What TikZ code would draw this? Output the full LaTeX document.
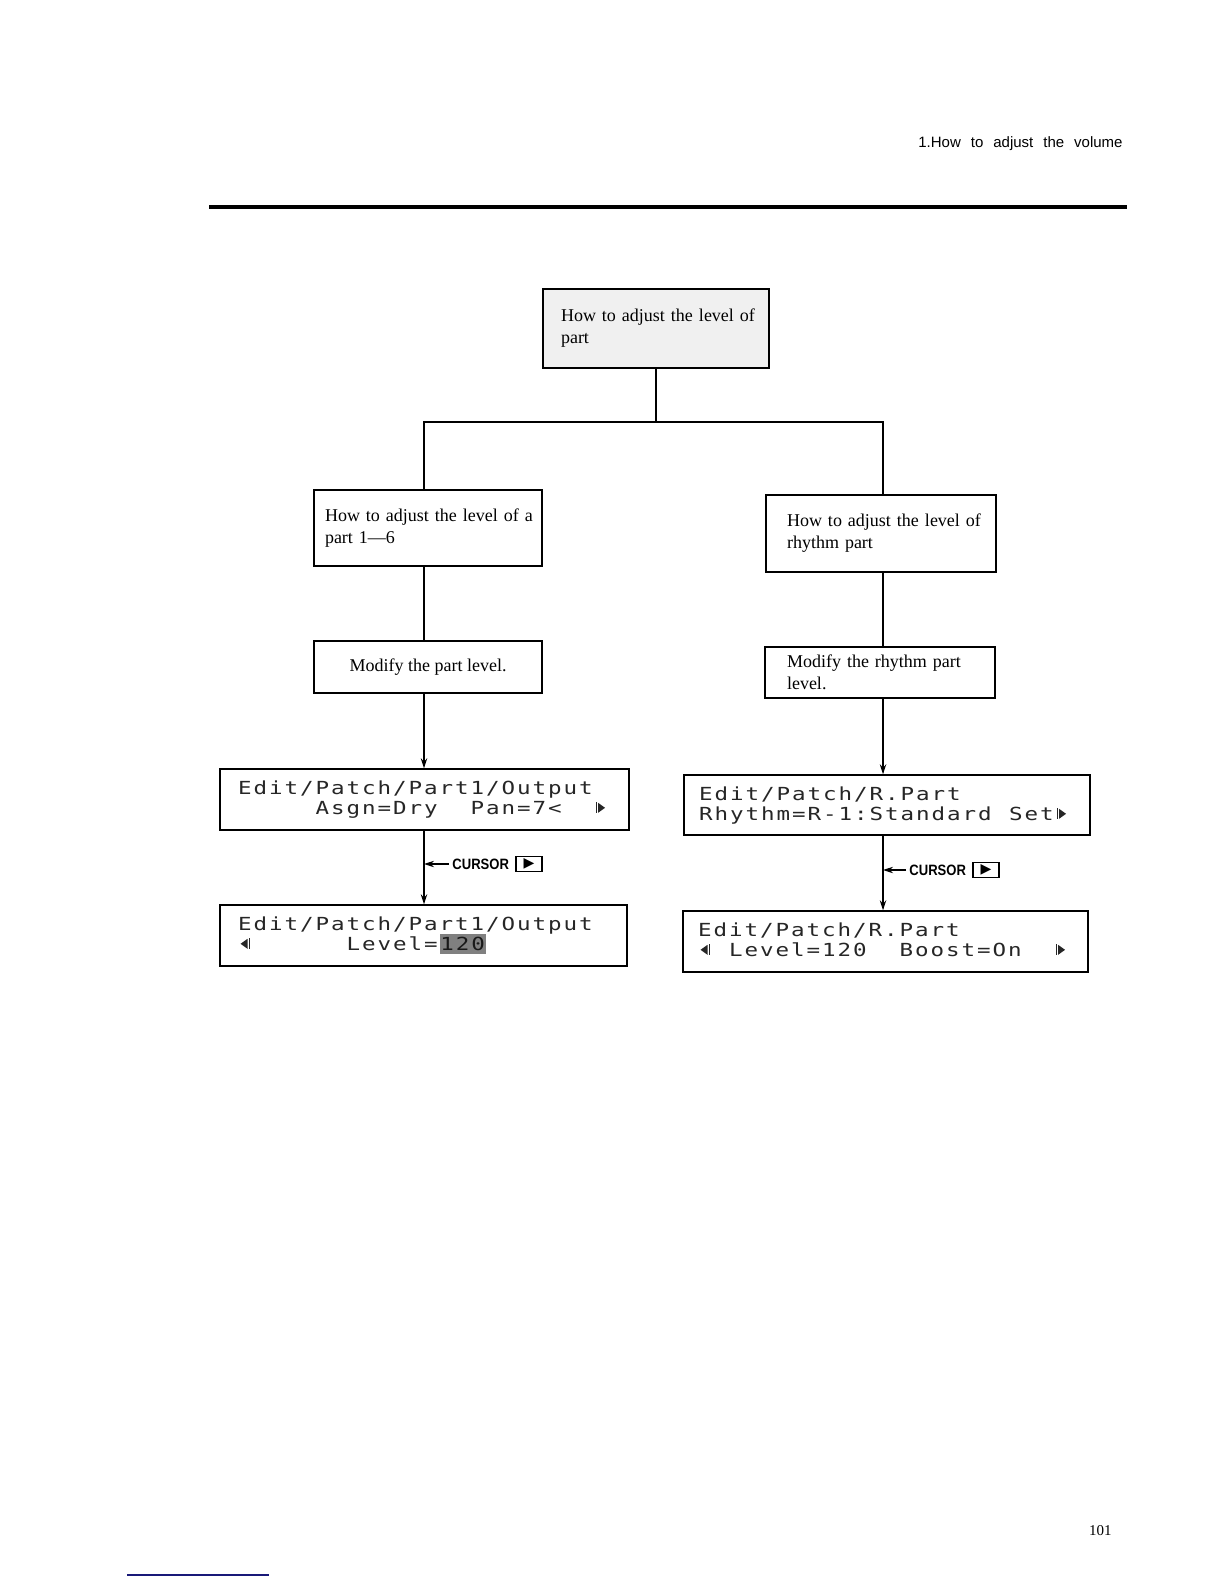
\documentclass[tikz,border=0pt]{standalone}
\usepackage{fontspec}
\setmainfont{Liberation Serif}
\newfontfamily\lcdfont[FakeStretch=1.25]{DejaVu Sans Mono}
\newfontfamily\hdrfont{Liberation Sans}
\newfontfamily\symfont{DejaVu Sans}
\usetikzlibrary{arrows.meta,calc}
\definecolor{rulblue}{RGB}{25,25,120}
\newcommand\lcdcells[1]{\lcdloop#1\relax}
\def\lcdloop#1{\ifx#1\relax\else\makebox[7.75pt][c]{#1}\expandafter\lcdloop\fi}
\tikzset{
  boxA/.style={draw, line width=0.9pt, inner ysep=0pt, align=left, font=\fontsize{9}{11}\selectfont},
  boxB/.style={draw, line width=0.8pt, inner ysep=0pt, font=\fontsize{9}{11}\selectfont},
  lcdbox/.style={draw, line width=0.7pt, inner sep=0pt},
  lcdtxt/.style={inner sep=0pt, anchor=base west, font=\lcdfont\fontsize{9}{9}\selectfont, text=black!85},
  conn/.style={line width=0.55pt},
  arr/.style={conn, -{Stealth[length=5pt,width=3.2pt]}},
  curtxt/.style={inner sep=0pt, anchor=west, font=\hdrfont\bfseries\fontsize{7.5}{7.5}\selectfont},
  btn/.style={draw, line width=0.6pt, inner sep=0pt, minimum width=13pt, minimum height=7.5pt, font=\symfont\fontsize{7}{7}\selectfont},
  rarr/.pic={\fill[black!85] (-3,-5) -- (4,0) -- (-3,5) -- cycle; \draw[black!85,line width=0.5pt] (-4.5,-5.5) -- (-4.5,5.5);},
  larr/.pic={\fill[black!85] (3,-5) -- (-4,0) -- (3,5) -- cycle; \draw[black!85,line width=0.5pt] (4.5,-5.5) -- (4.5,5.5);}
}
\begin{document}
\begin{tikzpicture}[x=0.5pt,y=-0.5pt]
\path[fill=white] (0,0) rectangle (1224,1584);
\useasboundingbox (0,0) rectangle (1224,1584);

% header
\node[anchor=base east, inner sep=0pt, font=\hdrfont\fontsize{7.5}{8}\selectfont] (hdr) at (1123,148)
  {\spaceskip=5pt\relax 1.How to adjust the volume};
\draw[line width=2pt] (209,207) -- (1127,207);

% boxes
\node[boxA, fill=black!6, line width=1.1pt, minimum width=113pt, minimum height=39.5pt,
      inner xsep=9pt, text width=95pt] (top) at (656,328.5)
  {\mbox{How to adjust the level of}\\part};
\node[boxA, minimum width=114pt, minimum height=38pt, inner xsep=5.5pt, text width=103pt] (lb1) at (428,528)
  {\mbox{How to adjust the level of a}\\part 1---6};
\node[boxA, minimum width=115pt, minimum height=38.5pt, inner xsep=10.5pt, text width=94pt] (rb1) at (881,533.5)
  {\mbox{How to adjust the level of}\\rhythm part};
\node[boxB, minimum width=114pt, minimum height=26pt, align=center] (lb2) at (428,667)
  {Modify the part level.};
\node[boxB, minimum width=115pt, minimum height=25.5pt, inner xsep=11pt, text width=93pt, align=left] (rb2) at (880,672.5)
  {\mbox{Modify the rhythm part}\\level.};

% LCD boxes
\node[lcdbox, minimum width=204.5pt, minimum height=30.5pt] (L1) at (424.5,799.5) {};
\node[lcdbox, minimum width=203pt, minimum height=30pt] (R1) at (887,805) {};
\node[lcdbox, minimum width=203.5pt, minimum height=30.5pt] (L2) at (423.5,935.5) {};
\node[lcdbox, minimum width=202.5pt, minimum height=30.5pt] (R2) at (885.5,941.5) {};

% LCD texts
\node[lcdtxt] (l1a) at ($(L1.north west)+(17.5,26)$) {\lcdcells{Edit/Patch/Part1/Output}};
\node[lcdtxt] (l1b) at ($(L1.north west)+(17.5,46)$) {\lcdcells{~~~~~Asgn=Dry~~Pan=7<}};
\pic at ($(L1.north west)+(381.75,39.5)$) {rarr};

\node[lcdtxt] (r1a) at ($(R1.north west)+(14.5,26)$) {\lcdcells{Edit/Patch/R.Part}};
\node[lcdtxt] (r1b) at ($(R1.north west)+(14.5,46)$) {\lcdcells{Rhythm=R-1:Standard~Set}};
\pic at ($(R1.north west)+(378.75,39.5)$) {rarr};

\node[lcdtxt] (l2a) at ($(L2.north west)+(17.5,26)$) {\lcdcells{Edit/Patch/Part1/Output}};
\node[lcdtxt] (l2b) at ($(L2.north west)+(17.5,46)$) {\lcdcells{~~~~~~~Level=}};
\node[lcdtxt, fill=black!50, inner ysep=1.5pt, text=black!90] (l2v) at (l2b.base east) {\lcdcells{120}};
\pic at ($(L2.north west)+(25.25,39.5)$) {larr};

\node[lcdtxt] (r2a) at ($(R2.north west)+(14.5,26)$) {\lcdcells{Edit/Patch/R.Part}};
\node[lcdtxt] (r2b) at ($(R2.north west)+(14.5,46)$) {\lcdcells{~~Level=120~~Boost=On}};
\pic at ($(R2.north west)+(22.25,39.5)$) {larr};
\pic at ($(R2.north west)+(378.75,39.5)$) {rarr};

% column coordinates
\coordinate (xl) at (424,0);
\coordinate (xr) at (883,0);
\coordinate (jn) at (656,422);

% connectors
\draw[conn] (top.south) -- (top.south |- jn);
\draw[conn] (xl |- lb1.north) |- (jn) -| (xr |- rb1.north);
\draw[conn] (xl |- lb1.south) -- (xl |- lb2.north);
\draw[conn] (xr |- rb1.south) -- (xr |- rb2.north);
\draw[arr] (xl |- lb2.south) -- (xl |- L1.north);
\draw[arr] (xr |- rb2.south) -- (xr |- R1.north);
\draw[arr] (xl |- L1.south) -- (xl |- L2.north);
\draw[arr] (xr |- R1.south) -- (xr |- R2.north);

% CURSOR labels
\node[curtxt] (curL) at (452,864) {\scalebox{0.87}[1]{CURSOR}};
\node[btn] (btnL) at (529,864) {▶};
\draw[arr] ([xshift=-1.5pt]curL.west) -- (curL.west -| xl);
\node[curtxt] (curR) at (909,870) {\scalebox{0.87}[1]{CURSOR}};
\node[btn] (btnR) at (986,870) {▶};
\draw[arr] ([xshift=-1.5pt]curR.west) -- (curR.west -| xr);

% page number and bottom rule
\node[anchor=base east, inner sep=0pt, font=\fontsize{7.5}{8}\selectfont] (pg) at (1112,1535) {101};
\draw[rulblue, line width=0.8pt] (127,1575) -- (269,1575);
\end{tikzpicture}
\end{document}
